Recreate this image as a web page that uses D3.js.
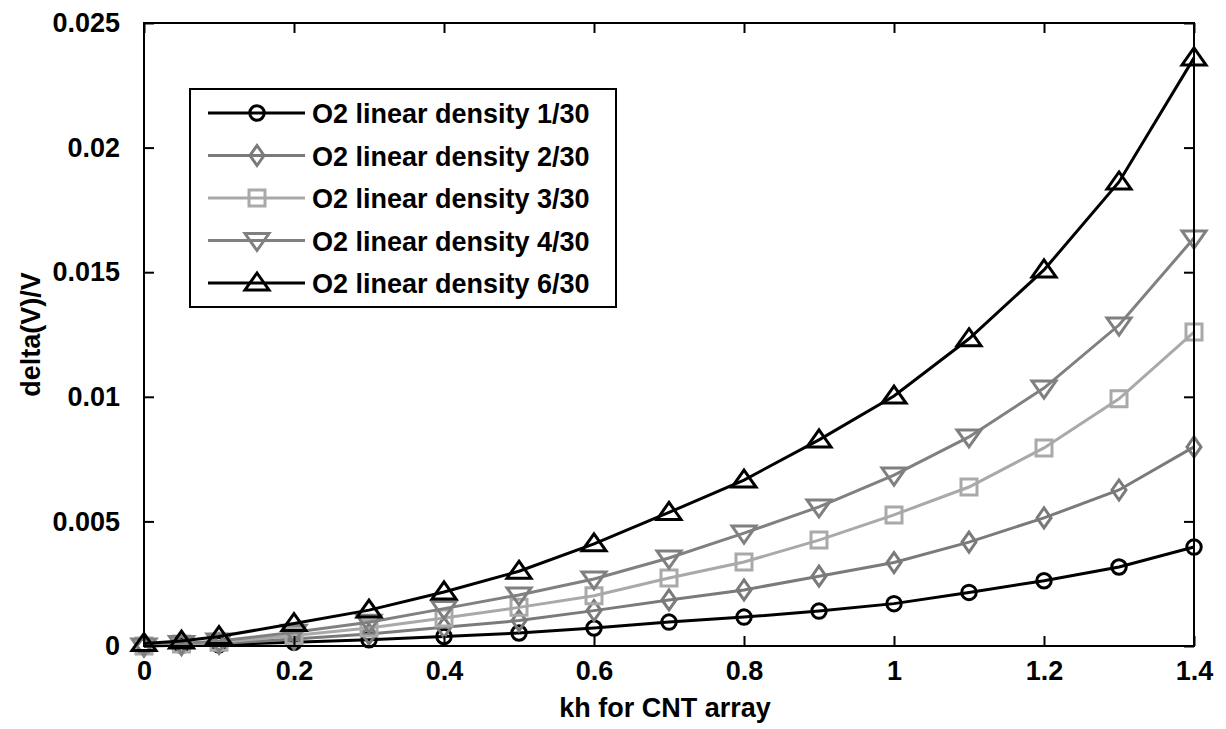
<!DOCTYPE html>
<html>
<head>
<meta charset="utf-8">
<script src="https://cdn.jsdelivr.net/npm/d3@7"></script>
<style>
  body { margin: 0; background: #fff; }
  text { font-family: "Liberation Sans", Arial, sans-serif; font-weight: bold; fill: #000; }
</style>
</head>
<body>
<div id="container"></div>
<script>
/* CONSTANTS AND GLOBALS */
const width = 1226;
const height = 729;
const margin = { left: 144, right: 32, top: 23, bottom: 83 };

/* DATA */
const kh = [0, 0.05, 0.1, 0.2, 0.3, 0.4, 0.5, 0.6, 0.7, 0.8, 0.9, 1.0, 1.1, 1.2, 1.3, 1.4];
const density1 = [0, 0.00003, 0.00005, 0.00015, 0.00025, 0.00038, 0.00052, 0.00072, 0.00096, 0.00116, 0.0014, 0.0017, 0.00215, 0.00262, 0.00317, 0.00397];
const density2 = [0, 0.00005, 0.0001, 0.00028, 0.00048, 0.00075, 0.00102, 0.00142, 0.00185, 0.00225, 0.0028, 0.00335, 0.00417, 0.00514, 0.00626, 0.00799];
const density3 = [0, 0.00008, 0.00015, 0.00042, 0.00072, 0.00112, 0.00155, 0.00202, 0.00273, 0.00337, 0.00425, 0.00526, 0.00638, 0.00795, 0.00992, 0.0126];
const density4 = [0, 0.0001, 0.0002, 0.00055, 0.00095, 0.0015, 0.00205, 0.00269, 0.00353, 0.00453, 0.00558, 0.00686, 0.00839, 0.01035, 0.01288, 0.01637];
const density6 = [0.0001, 0.0002, 0.00038, 0.0009, 0.00144, 0.00217, 0.003, 0.0041, 0.00536, 0.00666, 0.00827, 0.01003, 0.01233, 0.01509, 0.01862, 0.0236];

const seriesNames = ["O2 linear density 1/30", "O2 linear density 2/30", "O2 linear density 3/30", "O2 linear density 4/30", "O2 linear density 6/30"];
const seriesValues = [density1, density2, density3, density4, density6];
const seriesColors = ["#000000", "#7a7a7a", "#a9a9a9", "#808080", "#000000"];
const seriesMarkers = ["circle", "diamond", "square", "down", "up"];

const xTicks = [0, 0.2, 0.4, 0.6, 0.8, 1, 1.2, 1.4];
const xTickLabels = ["0", "0.2", "0.4", "0.6", "0.8", "1", "1.2", "1.4"];
const yTicks = [0, 0.005, 0.01, 0.015, 0.02, 0.025];
const yTickLabels = ["0", "0.005", "0.01", "0.015", "0.02", "0.025"];

/* SCALES */
const xScale = d3.scaleLinear()
  .domain([0, 1.4])
  .range([margin.left, width - margin.right]);

const yScale = d3.scaleLinear()
  .domain([0, 0.025])
  .range([height - margin.bottom, margin.top]);

/* SVG */
const svg = d3.select("#container")
  .append("svg")
  .attr("width", width)
  .attr("height", height);

// marker shapes
function markerPath(type) {
  switch (type) {
    case "circle": return d3.symbol(d3.symbolCircle, 165)();
    case "square": return "M-8,-8H8V8H-8Z";
    case "diamond": return "M0,-10L7,0L0,10L-7,0Z";
    case "up": return "M0,-10L12,7H-12Z";
    case "down": return "M0,10L12,-7H-12Z";
  }
}

// lines + markers
const line = d3.line()
  .x((d, i) => xScale(kh[i]))
  .y(d => yScale(d));

seriesValues.forEach((vals, s) => {
  const g = svg.append("g");
  g.append("path")
    .datum(vals)
    .attr("d", line)
    .attr("fill", "none")
    .attr("stroke", seriesColors[s])
    .attr("stroke-width", 3);
  g.selectAll("path.mk")
    .data(vals)
    .join("path")
    .attr("class", "mk")
    .attr("d", markerPath(seriesMarkers[s]))
    .attr("transform", (d, i) => `translate(${xScale(kh[i])},${yScale(d)})`)
    .attr("fill", "none")
    .attr("stroke", seriesColors[s])
    .attr("stroke-width", 3);
});

// axes (ticks inward, box)
const x0 = margin.left, x1 = width - margin.right;
const y0 = height - margin.bottom, y1 = margin.top;

svg.append("g")
  .attr("transform", `translate(0,${y0})`)
  .call(d3.axisBottom(xScale).tickValues(xTicks).tickSize(-10).tickPadding(15)
    .tickFormat((d, i) => xTickLabels[i]))
  .call(g => g.selectAll("text").attr("font-size", 27).attr("font-family", null))
  .call(g => g.select(".domain").remove());

svg.append("g")
  .attr("transform", `translate(0,${y1})`)
  .call(d3.axisTop(xScale).tickValues(xTicks).tickSize(-10).tickFormat(""))
  .call(g => g.select(".domain").remove());

svg.append("g")
  .attr("transform", `translate(${x0},0)`)
  .call(d3.axisLeft(yScale).tickValues(yTicks).tickSize(-10).tickPadding(24)
    .tickFormat((d, i) => yTickLabels[i]))
  .call(g => g.selectAll("text").attr("font-size", 27).attr("font-family", null))
  .call(g => g.select(".domain").remove());

svg.append("g")
  .attr("transform", `translate(${x1},0)`)
  .call(d3.axisRight(yScale).tickValues(yTicks).tickSize(-10).tickFormat(""))
  .call(g => g.select(".domain").remove());

svg.selectAll(".tick line").attr("stroke", "#000").attr("stroke-width", 2);

svg.append("rect")
  .attr("x", x0).attr("y", y1)
  .attr("width", x1 - x0).attr("height", y0 - y1)
  .attr("fill", "none").attr("stroke", "#000").attr("stroke-width", 2);

// axis labels
svg.append("text")
  .attr("x", (x0 + x1) / 2 - 4)
  .attr("y", 717)
  .attr("text-anchor", "middle")
  .attr("font-size", 27)
  .text("kh for CNT array");

svg.append("text")
  .attr("transform", `translate(40,${(y0 + y1) / 2}) rotate(-90)`)
  .attr("text-anchor", "middle")
  .attr("font-size", 27)
  .text("delta(V)/V");

// legend
const legend = svg.append("g");
legend.append("rect")
  .attr("x", 190).attr("y", 89)
  .attr("width", 426).attr("height", 218)
  .attr("fill", "#fff").attr("stroke", "#000").attr("stroke-width", 2);

seriesNames.forEach((name, s) => {
  const yy = 113 + s * 42.5;
  legend.append("line")
    .attr("x1", 208).attr("x2", 305).attr("y1", yy).attr("y2", yy)
    .attr("stroke", seriesColors[s]).attr("stroke-width", 3);
  legend.append("path")
    .attr("d", markerPath(seriesMarkers[s]))
    .attr("transform", `translate(257,${yy})`)
    .attr("fill", "none").attr("stroke", seriesColors[s]).attr("stroke-width", 3);
  legend.append("text")
    .attr("x", 312).attr("y", yy + 10)
    .attr("font-size", 27)
    .text(name);
});
</script>
</body>
</html>
